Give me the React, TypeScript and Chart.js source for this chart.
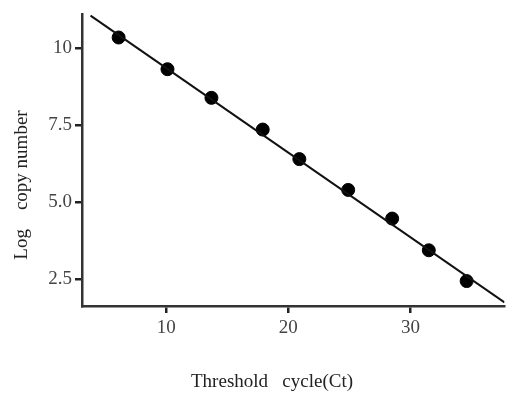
import React, { useEffect, useRef } from "react";
import { Chart, registerables } from "chart.js";

Chart.register(...registerables);

// Measured points (Ct vs log copy number)
const ctValues = [6.1, 10.1, 13.7, 17.9, 20.9, 24.9, 28.5, 31.5, 34.6];
const logCopies = [10.35, 9.32, 8.39, 7.36, 6.4, 5.4, 4.47, 3.44, 2.44];
// Standard curve (fit line) end points
const fitX = [3.8, 37.7];
const fitY = [11.06, 1.75];
// Ticks
const xTicks = [10, 20, 30];
const yTicks = [2.5, 5.0, 7.5, 10];
const yTickLabels = ["2.5", "5.0", "7.5", "10"];
const xTitle = "Threshold   cycle(Ct)";
const yTitle = "Log    copy number";

const FONT_FAMILY = "'Liberation Serif', 'Times New Roman', serif";

const axisTitles = {
  id: "axisTitles",
  afterDraw(chart: any) {
    const ctx = chart.ctx;
    ctx.save();
    ctx.fillStyle = "#222";
    ctx.font = `19px ${FONT_FAMILY}`;
    ctx.textAlign = "center";
    ctx.textBaseline = "middle";
    ctx.fillText(xTitle, 272, 382);
    ctx.translate(22, 185);
    ctx.rotate(-Math.PI / 2);
    ctx.fillText(yTitle, 0, 0);
    ctx.restore();
  },
};

export default function App() {
  const ref = useRef<HTMLCanvasElement | null>(null);
  useEffect(() => {
    if (!ref.current) return;
    const font = { family: FONT_FAMILY, size: 19 };
    const axisColor = "#333";
    const gridOpts = {
      drawOnChartArea: false,
      drawTicks: true,
      tickLength: 7,
      color: axisColor,
      tickColor: "#222",
      lineWidth: 2.5,
      tickWidth: 2.5,
    };
    const chart = new Chart(ref.current, {
      type: "scatter",
      data: {
        datasets: [
          {
            label: "fit",
            data: fitX.map((x, i) => ({ x, y: fitY[i] })),
            showLine: true,
            borderColor: "#111",
            borderWidth: 2,
            pointRadius: 0,
          },
          {
            label: "points",
            data: ctValues.map((x, i) => ({ x, y: logCopies[i] })),
            backgroundColor: "#000",
            borderColor: "#000",
            pointRadius: 6.5,
          },
        ],
      },
      options: {
        responsive: false,
        animation: false,
        layout: { padding: { top: 12, right: 4, left: 0, bottom: 0 } },
        plugins: { legend: { display: false }, tooltip: { enabled: false } },
        scales: {
          x: {
            type: "linear",
            min: 3.1,
            max: 37.7,
            afterBuildTicks: (s: any) => {
              s.ticks = xTicks.map((v) => ({ value: v }));
            },
            afterFit: (s: any) => {
              s.height = 89;
            },
            border: { display: true, color: axisColor, width: 2.5 },
            grid: gridOpts,
            ticks: { font, color: "#444", padding: 4, maxRotation: 0 },
          },
          y: {
            type: "linear",
            min: 1.63,
            max: 11.1,
            afterBuildTicks: (s: any) => {
              s.ticks = yTicks.map((v) => ({ value: v }));
            },
            afterFit: (s: any) => {
              s.width = 82;
            },
            border: { display: true, color: axisColor, width: 2.5 },
            grid: gridOpts,
            ticks: {
              font,
              color: "#444",
              padding: 3,
              callback: (v: any) => {
                const i = yTicks.indexOf(Number(v));
                return i >= 0 ? yTickLabels[i] : "";
              },
            },
          },
        },
      },
      plugins: [axisTitles],
    } as any);
    return () => chart.destroy();
  }, []);
  return (
    <div style={{ position: "fixed", left: 0, top: 0, width: 512, height: 395, background: "#fff" }}>
      <canvas ref={ref} width={512} height={395} />
    </div>
  );
}
